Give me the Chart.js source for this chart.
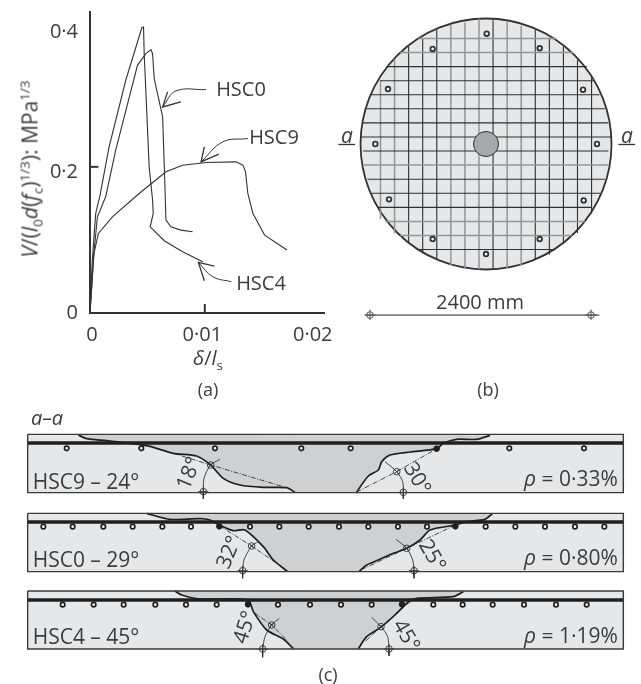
<!DOCTYPE html>
<html>
<head>
<meta charset="utf-8">
<script src="https://cdn.jsdelivr.net/npm/chart.js@4/dist/chart.umd.js"></script>
<style>
  html, body { margin: 0; background: #fff; }
  #page { position: relative; width: 641px; height: 684px; overflow: hidden; font-family: "Open Sans", sans-serif; color: #3c3c3c; }
  canvas { position: absolute; display: block; }
  .t { position: absolute; white-space: nowrap; font-size: 20px; line-height: 1; transform: translate(-50%, -50%); }
  .b { font-size: 21px; }
  .t sub, .t sup { font-size: 13.5px; line-height: 0; }
  i { font-style: italic; }
</style>
</head>
<body>
<div id="page">
  <canvas id="chartA" width="345" height="350" style="left:0;top:0"></canvas>
  <canvas id="chartB" width="306" height="320" style="left:335px;top:0"></canvas>
  <canvas id="chartC" width="641" height="284" style="left:0;top:400px"></canvas>

  <div class="t b" style="left:30px;top:169px;transform:translate(-50%,-50%) rotate(-90deg)"><i>V</i>/(<i>l</i><sub>0</sub><i>d</i>(<i>f</i><sub>c</sub>)<sup>1/3</sup>): MPa<sup>1/3</sup></div>
  <div class="t" style="left:208px;top:358px"><i>δ</i>/<i>l</i><sub>s</sub></div>
  <div class="t" style="left:241px;top:89px">HSC0</div>
  <div class="t" style="left:274px;top:137px">HSC9</div>
  <div class="t" style="left:261px;top:283px">HSC4</div>
  <div class="t" style="left:208px;top:389px;font-size:18px">(a)</div>

  <div class="t b" style="left:347px;top:135px"><i>a</i></div>
  <div class="t b" style="left:627px;top:135px"><i>a</i></div>
  <div class="t" style="left:480px;top:302px">2400 mm</div>
  <div class="t" style="left:488px;top:389px;font-size:18px">(b)</div>

  <div class="t" style="left:47px;top:418px"><i>a–a</i></div>
  <div class="t b" style="left:86px;top:481px">HSC9 – 24°</div>
  <div class="t b" style="left:571px;top:478px"><i>ρ</i> = 0·33%</div>
  <div class="t b" style="left:188px;top:473px;transform:translate(-50%,-50%) rotate(-68deg)">18°</div>
  <div class="t b" style="left:418px;top:478px;transform:translate(-50%,-50%) rotate(60deg)">30°</div>
  <div class="t b" style="left:86px;top:559px">HSC0 – 29°</div>
  <div class="t b" style="left:571px;top:557px"><i>ρ</i> = 0·80%</div>
  <div class="t b" style="left:228px;top:552px;transform:translate(-50%,-50%) rotate(-68deg)">32°</div>
  <div class="t b" style="left:433px;top:555px;transform:translate(-50%,-50%) rotate(60deg)">25°</div>
  <div class="t b" style="left:86px;top:636px">HSC4 – 45°</div>
  <div class="t b" style="left:571px;top:635px"><i>ρ</i> = 1·19%</div>
  <div class="t b" style="left:244px;top:627px;transform:translate(-50%,-50%) rotate(-72deg)">45°</div>
  <div class="t b" style="left:407px;top:635px;transform:translate(-50%,-50%) rotate(60deg)">45°</div>
  <div class="t" style="left:328px;top:674px;font-size:18px">(c)</div>
</div>

<script>
// (a) load against rotation
const xTickLabels = ['0', '0·01', '0·02'];
const yTickLabels = ['0', '0·2', '0·4'];

const hsc4Delta = [0, 0.00021, 0.00052, 0.00091, 0.00173, 0.00324, 0.0043, 0.0047, 0.00485, 0.00491, 0.00536, 0.00567, 0.00573, 0.00545, 0.00673, 0.00839, 0.01021];
const hsc4Shear = [0, 0.0754, 0.1419, 0.168, 0.2368, 0.3317, 0.3862, 0.4066, 0.4076, 0.3696, 0.2083, 0.1609, 0.1419, 0.1229, 0.103, 0.0873, 0.0731];
const hsc0Delta = [0, 0.0003, 0.00067, 0.00142, 0.00233, 0.0043, 0.00506, 0.00552, 0.00567, 0.00582, 0.00658, 0.00679, 0.00688, 0.00733, 0.00824, 0.0093];
const hsc0Shear = [0, 0.0754, 0.1371, 0.1656, 0.232, 0.353, 0.3696, 0.3753, 0.3696, 0.334, 0.2795, 0.1798, 0.1324, 0.1229, 0.1181, 0.1158];
const hsc9Delta = [0, 0.00036, 0.00076, 0.00203, 0.00445, 0.00688, 0.00839, 0.01052, 0.01324, 0.01385, 0.01409, 0.0143, 0.01476, 0.01582, 0.01785];
const hsc9Shear = [0, 0.0849, 0.1134, 0.1371, 0.1703, 0.2012, 0.2107, 0.2145, 0.2154, 0.2107, 0.2012, 0.1703, 0.1419, 0.111, 0.0897];

// leader arrows and the two tick marks of (a), in axis units
const hsc0Leader = [[0.01052, 0.3184], [0.00779, 0.3165], [0.00658, 0.2937]];
const hsc0Barbs = [[0.00703, 0.3151], [0.00658, 0.2937], [0.00824, 0.3008]];
const hsc9Leader = [[0.0143, 0.2486], [0.01203, 0.2439], [0.01006, 0.2154]];
const hsc9Barbs = [[0.01036, 0.2368], [0.01006, 0.2154], [0.01167, 0.2263]];
const hsc4Leader = [[0.01279, 0.0446], [0.01112, 0.0517], [0.00982, 0.0721]];
const hsc4Barbs = [[0.01127, 0.0669], [0.00982, 0.0721], [0.01036, 0.046]];
const yTickMark = [[0, 0.2083], [0.00076, 0.2083]];
const xTickMark = [[0.0104, 0], [0.0104, 0.0128]];

// (b) plan of the slab, mm from the column centre
const meshPos = [-1125, -975, -825, -675, -525, -375, -225, -75, 75, 225, 375, 525, 675, 825, 975, 1125];
const meshVTop = [680, 900, 1040, 1125, 1215, 1270, 1295, 1335, 1320, 1300, 1260, 1215, 1125, 1040, 895, 720];
const meshVBottom = [-800, -950, -1060, -1165, -1235, -1290, -1325, -1335, -1330, -1325, -1290, -1235, -1180, -1060, -950, -740];
const meshHLeft = [-720, -915, -1060, -1130, -1235, -1280, -1315, -1340, -1310, -1310, -1265, -1220, -1150, -1075, -915, -720];
const meshHRight = [750, 930, 1075, 1145, 1210, 1270, 1305, 1340, 1305, 1305, 1270, 1215, 1125, 1055, 915, 720];
const shearBars = [[7, 1176], [572, 1020], [1034, 579], [1183, 0], [1041, -601], [572, -1013], [0, -1173], [-569, -1013], [-1034, -590], [-1180, 0], [-1045, 586], [-569, 1013]];
const dimLine = [[-1290, -1823], [1208, -1823]];
const dimEnds = [[-1237, -1823], [1119, -1823]];
const cutLeft = [[-1574, -5], [-1396, -5]];
const cutRight = [[1411, -5], [1589, -5]];

// (c) sections, in drawing units (three to the pixel of the sheet)
const sectionXs = [83, 1870];
const sec9Tops = [1303, 1478], sec0Tops = [1540, 1715], sec4Tops = [1773, 1947];
const sec9Rebar = 1329, sec0Rebar = 1566, sec4Rebar = 1800;
const sec9Bars = [[200, 1345], [424, 1345], [645, 1345], [904, 1345], [1052, 1345], [1528, 1345], [1752, 1345]];
const sec0Bars = [[130, 1580], [218, 1580], [310, 1580], [398, 1580], [487, 1580], [573, 1580], [750, 1580], [838, 1580], [926, 1580], [1017, 1580], [1105, 1580], [1194, 1580], [1281, 1580], [1457, 1580], [1546, 1580], [1635, 1580], [1725, 1580], [1813, 1580]];
const sec4Bars = [[188, 1814], [281, 1814], [371, 1814], [466, 1814], [558, 1814], [650, 1814], [834, 1814], [930, 1814], [1023, 1814], [1115, 1814], [1300, 1814], [1388, 1814], [1478, 1814], [1572, 1814], [1668, 1814], [1760, 1814]];
const sec9Solid = [[1310, 1346]], sec0Solid = [[658, 1579], [1366, 1579]], sec4Solid = [[744, 1813], [1206, 1813]];

const sec9CrackL = [[235, 1305], [260, 1316], [320, 1322], [440, 1337], [520, 1360], [590, 1368], [632, 1395], [670, 1435], [720, 1455], [790, 1462], [860, 1463], [885, 1477]];
const sec9CrackR = [[1070, 1476], [1105, 1428], [1135, 1410], [1145, 1385], [1170, 1365], [1230, 1356], [1310, 1346], [1330, 1330], [1370, 1318], [1430, 1318], [1470, 1306]];
const sec0CrackL = [[440, 1540], [510, 1558], [600, 1556], [630, 1560], [658, 1575], [700, 1592], [735, 1590], [790, 1640], [820, 1680], [862, 1714]];
const sec0CrackR = [[1078, 1714], [1100, 1695], [1135, 1680], [1180, 1660], [1220, 1645], [1260, 1620], [1290, 1590], [1366, 1575], [1400, 1565], [1455, 1558], [1478, 1540]];
const sec4CrackL = [[525, 1773], [545, 1785], [600, 1797], [744, 1800], [760, 1835], [800, 1890], [850, 1917], [880, 1946]];
const sec4CrackR = [[1075, 1946], [1100, 1910], [1145, 1880], [1185, 1845], [1225, 1806], [1250, 1795], [1360, 1790], [1390, 1775]];

const sec9DashL = [[520, 1360], [632, 1395], [850, 1460]], sec9DashR = [[1070, 1476], [1190, 1415], [1310, 1346]];
const sec0DashL = [[658, 1577], [755, 1638], [862, 1712]], sec0DashR = [[1366, 1575], [1220, 1645], [1078, 1712]];
const sec4DashL = [[762, 1838], [815, 1875], [865, 1925]], sec4DashR = [[1230, 1805], [1143, 1880], [1095, 1925]];

const sec9ArcL = [[660, 1378], [632, 1395], [612, 1435], [610, 1475]], sec9ArcR = [[1155, 1385], [1190, 1415], [1208, 1445], [1210, 1477]];
const sec0ArcL = [[775, 1625], [755, 1638], [732, 1680], [728, 1712]], sec0ArcR = [[1188, 1618], [1220, 1645], [1238, 1680], [1242, 1712]];
const sec4ArcL = [[838, 1855], [815, 1875], [795, 1910], [788, 1947]], sec4ArcR = [[1115, 1852], [1143, 1880], [1163, 1910], [1167, 1947]];
const sec9Stems = [[[610, 1475], [610, 1497]], [[1210, 1477], [1210, 1497]]];
const sec0Stems = [[[728, 1712], [728, 1735]], [[1242, 1712], [1242, 1735]]];
const sec4Stems = [[[788, 1947], [788, 1972]], [[1167, 1947], [1167, 1968]]];
const sec9Centres = [[632, 1395], [1190, 1415]], sec9Ends = [[610, 1475], [1210, 1477]];
const sec0Centres = [[755, 1638], [1220, 1645]], sec0Ends = [[728, 1712], [1242, 1712]];
const sec4Centres = [[815, 1875], [1143, 1880]], sec4Ends = [[788, 1947], [1167, 1947]];

const ink = '#333333';
const toPoints = (pts) => pts.map(([x, y]) => ({ x, y }));
const zipPoints = (xs, ys) => xs.map((x, i) => ({ x, y: ys[i] }));

function line(data, width, color, extra) {
    return Object.assign({ data, showLine: true, borderColor: color || ink, borderWidth: width, pointRadius: 0, tension: 0, fill: false }, extra);
}
function dots(data, radius, style, fillColor, borderWidth, color) {
    return { data, showLine: false, pointStyle: style || 'circle', pointRadius: radius, pointBackgroundColor: fillColor || '#fff', pointBorderColor: color || ink, pointBorderWidth: borderWidth };
}
function shape(data, color) {
    return { data, showLine: true, borderWidth: 0, pointRadius: 0, backgroundColor: color, borderColor: color, fill: 'shape', tension: 0 };
}

// datasets are listed in paint order, Chart.js paints the first one last
function flatChart(id, datasets, scales, padding) {
    return new Chart(document.getElementById(id), {
        type: 'scatter',
        data: { datasets: datasets.slice().reverse() },
        options: {
            responsive: false,
            animation: false,
            events: [],
            layout: { autoPadding: false, padding: padding || 0 },
            plugins: { legend: { display: false }, tooltip: { enabled: false } },
            scales
        }
    });
}

const tickFont = { family: '"Open Sans", sans-serif', size: 20 };
flatChart('chartA', [
    line(zipPoints(hsc4Delta, hsc4Shear), 1.1),
    line(zipPoints(hsc0Delta, hsc0Shear), 1.1),
    line(zipPoints(hsc9Delta, hsc9Shear), 1.1),
    line(toPoints(hsc0Leader), 1, ink, { tension: 0.4 }),
    line(toPoints(hsc0Barbs), 1.3),
    line(toPoints(hsc9Leader), 1, ink, { tension: 0.4 }),
    line(toPoints(hsc9Barbs), 1.3),
    line(toPoints(hsc4Leader), 1, ink, { tension: 0.4 }),
    line(toPoints(hsc4Barbs), 1.3),
    line(toPoints(yTickMark), 2),
    line(toPoints(xTickMark), 2)
], {
    x: {
        type: 'linear', min: 0, max: 0.0212,
        grid: { display: false, drawTicks: false },
        border: { color: ink, width: 2 },
        afterFit: (s) => { s.height = 37; s.paddingLeft = 0; s.paddingRight = 0; },
        ticks: {
            stepSize: 0.01, autoSkip: false, includeBounds: false, maxRotation: 0, padding: 10, labelOffset: 2,
            color: '#3c3c3c', font: tickFont,
            callback: (v, i) => xTickLabels[i]
        }
    },
    y: {
        type: 'linear', min: 0, max: 0.429,
        grid: { display: false, drawTicks: false },
        border: { color: ink, width: 2 },
        afterFit: (s) => { s.width = 90; s.paddingTop = 0; s.paddingBottom = 0; },
        ticks: {
            stepSize: 0.2, autoSkip: false, includeBounds: false, padding: 12,
            color: '#3c3c3c', font: tickFont,
            callback: (v, i) => yTickLabels[i]
        }
    }
}, { top: 12, right: 21, left: 0, bottom: 0 });

const meshGrey = [0, 1, 5, 6, 7, 9, 10];
const meshHGrey = [1, 2, 6, 14, 15];
const meshDatasets = [];
meshPos.forEach((x, i) => {
    const grey = meshGrey.includes(i);
    meshDatasets.push(line(toPoints([[x, meshVTop[i]], [x, meshVBottom[i]]]), grey ? 1.5 : 1.1, grey ? '#949597' : '#2f2f2f'));
});
meshPos.forEach((y, i) => {
    const grey = meshHGrey.includes(15 - i);
    meshDatasets.push(line(toPoints([[meshHLeft[i], -y], [meshHRight[i], -y]]), grey ? 1.5 : 1.1, grey ? '#949597' : '#2f2f2f'));
});

flatChart('chartB', [
    dots([{ x: 0, y: 0 }], 125.5, 'circle', '#e6e7e8', 1.8),
    ...meshDatasets,
    dots([{ x: 0, y: 0 }], 12.5, 'circle', '#a7a9ac', 1),
    dots(toPoints(shearBars), 2.3, 'circle', '#fff', 1.8),
    line(toPoints(dimLine), 1.8, '#808080'),
    dots(toPoints(dimEnds), 5.5, 'cross', 'transparent', 1, '#555'),
    dots(toPoints(dimEnds), 3.3, 'circle', 'transparent', 1, '#555'),
    line(toPoints(cutLeft), 1.3),
    line(toPoints(cutRight), 1.3)
], {
    x: { type: 'linear', display: false, min: -1610, max: 1652 },
    y: { type: 'linear', display: false, min: -1876, max: 1535 }
});

function rect([x0, x1], [y0, y1]) {
    return toPoints([[x0, y0], [x1, y0], [x1, y1], [x0, y1], [x0, y0]]);
}
function section(tops, rebar, crackL, crackR, dashL, dashR, arcL, arcR, stems, centres, ends, bars, solid) {
    const cone = toPoints([...crackL, ...crackR]);
    return [
        shape(rect(sectionXs, tops), '#e6e7e8'),
        shape(cone, '#cfd0d2'),
        line(toPoints([[sectionXs[0], rebar], [sectionXs[1], rebar]]), 3.6, '#1f1f1f'),
        line(toPoints(crackL), 1.7, '#1f1f1f', { tension: 0.25 }),
        line(toPoints(crackR), 1.7, '#1f1f1f', { tension: 0.25 }),
        line(toPoints(dashL), 0.8, '#1f1f1f', { borderDash: [5, 1.5, 1, 1.5] }),
        line(toPoints(dashR), 0.8, '#1f1f1f', { borderDash: [5, 1.5, 1, 1.5] }),
        line(toPoints(arcL), 0.9, ink, { tension: 0.3 }),
        line(toPoints(arcR), 0.9, ink, { tension: 0.3 }),
        line(toPoints(stems[0]), 0.9),
        line(toPoints(stems[1]), 0.9),
        dots(toPoints(bars), 2.2, 'circle', '#fff', 1.7, '#1f1f1f'),
        dots(toPoints(solid), 2.8, 'circle', '#1f1f1f', 1, '#1f1f1f'),
        dots(toPoints(centres), 3.3, 'circle', 'transparent', 0.9),
        dots(toPoints(centres), 3.3, 'crossRot', 'transparent', 0.9),
        dots(toPoints(ends), 3.3, 'circle', 'transparent', 0.9),
        dots(toPoints(ends), 5, 'cross', 'transparent', 0.9),
        line(rect(sectionXs, tops), 1.4, '#3a3a3a')
    ];
}

flatChart('chartC', [
    ...section(sec9Tops, sec9Rebar, sec9CrackL, sec9CrackR, sec9DashL, sec9DashR, sec9ArcL, sec9ArcR, sec9Stems, sec9Centres, sec9Ends, sec9Bars, sec9Solid),
    ...section(sec0Tops, sec0Rebar, sec0CrackL, sec0CrackR, sec0DashL, sec0DashR, sec0ArcL, sec0ArcR, sec0Stems, sec0Centres, sec0Ends, sec0Bars, sec0Solid),
    ...section(sec4Tops, sec4Rebar, sec4CrackL, sec4CrackR, sec4DashL, sec4DashR, sec4ArcL, sec4ArcR, sec4Stems, sec4Centres, sec4Ends, sec4Bars, sec4Solid)
], {
    x: { type: 'linear', display: false, min: 0, max: 1923 },
    y: { type: 'linear', display: false, reverse: true, min: 1200, max: 2052 }
});
</script>
</body>
</html>
